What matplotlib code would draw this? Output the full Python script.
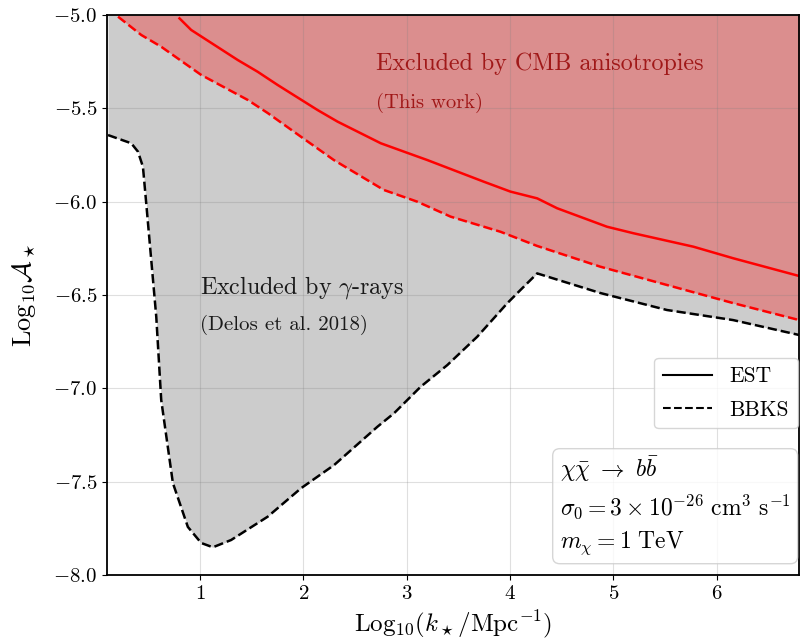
import numpy as np
import matplotlib
matplotlib.use('Agg')
import matplotlib.pyplot as plt
from matplotlib.lines import Line2D

plt.rcParams['font.family'] = 'serif'
plt.rcParams['font.serif'] = ['cmr10']
plt.rcParams['mathtext.fontset'] = 'cm'
plt.rcParams['axes.formatter.use_mathtext'] = True

# gamma-ray bound (Delos et al. 2018), BBKS
gam_x = [0.108, 0.333, 0.398, 0.446, 0.478, 0.575, 0.623, 0.736, 0.881, 1.01, 1.123, 1.30,
         1.654, 1.976, 2.298, 2.717, 2.877, 3.135, 3.393, 3.683, 3.973, 4.101, 4.263,
         4.874, 5.519, 6.16, 6.8]
gam_y = [-5.643, -5.687, -5.732, -5.813, -6.009, -6.616, -7.062, -7.507, -7.742, -7.828,
         -7.851, -7.812, -7.687, -7.535, -7.41, -7.205, -7.133, -6.991, -6.875, -6.723,
         -6.544, -6.473, -6.384, -6.489, -6.58, -6.634, -6.714]

# CMB bound, BBKS
cmb_bbks_x = [0.205, 0.43, 0.623, 1.01, 1.461, 1.654, 1.976, 2.295, 2.778, 3.103, 3.425,
              3.908, 4.263, 4.874, 5.519, 6.16, 6.8]
cmb_bbks_y = [-5.009, -5.107, -5.17, -5.321, -5.455, -5.525, -5.652, -5.777, -5.937, -6.0,
              -6.08, -6.161, -6.237, -6.348, -6.446, -6.543, -6.634]

# CMB bound, EST
cmb_est_x = [0.8, 0.913, 1.364, 1.557, 1.751, 2.137, 2.33, 2.749, 2.974, 3.2, 3.747, 4.005,
             4.263, 4.456, 4.939, 5.196, 5.776, 6.162, 6.8]
cmb_est_y = [-5.018, -5.08, -5.241, -5.304, -5.375, -5.509, -5.571, -5.687, -5.732, -5.777,
             -5.893, -5.946, -5.982, -6.035, -6.134, -6.169, -6.241, -6.303, -6.398]

fig = plt.figure(figsize=(8, 6.39), dpi=100)
ax = fig.add_axes([0.134, 0.100, 0.865, 0.8765])

# shaded exclusion regions
ax.fill_between(gam_x, gam_y, -5.0, color='0.8', lw=0, zorder=1)
ax.fill_between([0.1, 0.108], [-5.643, -5.643], -5.0, color='0.8', lw=0, zorder=1)
ax.fill_between(cmb_bbks_x, cmb_bbks_y, -5.0, color='red', alpha=0.3, lw=0, zorder=2)

ax.plot(gam_x, gam_y, color='black', ls='--', lw=1.8, zorder=4)
ax.plot(cmb_bbks_x, cmb_bbks_y, color='red', ls='--', lw=1.8, zorder=4)
ax.plot(cmb_est_x, cmb_est_y, color='red', ls='-', lw=1.8, zorder=4)

ax.set_xlim(0.1, 6.8)
ax.set_ylim(-8.0, -5.0)
ax.set_xticks([1, 2, 3, 4, 5, 6])
ax.set_yticks([-8.0, -7.5, -7.0, -6.5, -6.0, -5.5, -5.0])
ax.grid(True, color='0.5', alpha=0.25, lw=0.8, zorder=3)
ax.set_axisbelow(False)
ax.tick_params(labelsize=15)
for s in ax.spines.values():
    s.set_linewidth(1.3)
    s.set_zorder(5)

ax.set_xlabel(r'$\mathrm{Log}_{10}(k_\star/\mathrm{Mpc}^{-1})$', fontsize=18)
ax.set_ylabel(r'$\mathrm{Log}_{10}\mathcal{A}_\star$', fontsize=19, labelpad=11)

ax.text(2.7, -5.26, 'Excluded by CMB anisotropies', color='#a01818', fontsize=17.3,
        va='center', zorder=6)
ax.text(2.7, -5.47, '(This work)', color='#a01818', fontsize=14.8, va='center', zorder=6)
ax.text(1.0, -6.46, r'Excluded by $\gamma$-rays', color='#1a1a1a', fontsize=17.3,
        va='center', zorder=6)
ax.text(1.0, -6.66, '(Delos et al. 2018)', color='#1a1a1a', fontsize=15, va='center', zorder=6)

handles = [Line2D([], [], color='black', ls='-', lw=1.5),
           Line2D([], [], color='black', ls='--', lw=1.5)]
leg = ax.legend(handles, ['EST', 'BBKS'], loc='lower right', bbox_to_anchor=(0.998, 0.262),
                fontsize=15.5, handlelength=2.3, labelspacing=0.65, borderaxespad=0,
                framealpha=0.8)
leg.set_zorder(7)

ax.text(0.654, 0.033,
        r'$\chi\bar{\chi}\ \rightarrow\ b\bar{b}$' + '\n'
        + r'$\sigma_0 = 3\times10^{-26}\ \mathrm{cm}^3\ \mathrm{s}^{-1}$' + '\n'
        + r'$m_\chi = 1\ \mathrm{TeV}$',
        transform=ax.transAxes, fontsize=17, va='bottom', ha='left', linespacing=1.42,
        zorder=7,
        bbox=dict(boxstyle='round,pad=0.3', facecolor='white', edgecolor='0.8', alpha=0.8))

fig.savefig('out.png', dpi=100)
